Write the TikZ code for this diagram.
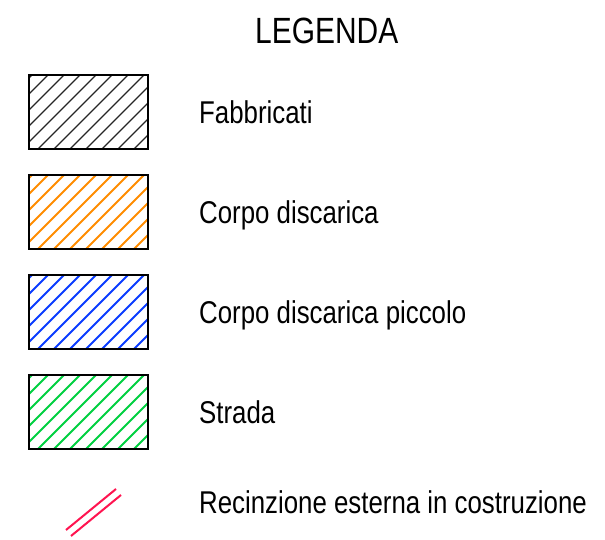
\documentclass[tikz,border=0pt]{standalone}
\usepackage{fontspec}
\setmainfont{Liberation Sans}[FakeStretch=0.82]
\usetikzlibrary{calc}
\newcommand\gap{100pt}
\definecolor{orangeD}{HTML}{FF8C00}
\definecolor{blueD}{HTML}{0A3CFF}
\definecolor{greenD}{HTML}{00D040}
\definecolor{redR}{HTML}{FF1450}

\begin{document}
\begin{tikzpicture}[
      x=1pt, y=1pt,
      swatch/.style args = {#1/#2}{
        draw=black,
        line width=1.5pt,
        minimum width=119pt,
        minimum height=74pt,
        inner sep=0pt,
        path picture={
          \foreach \k in {-6,...,8}
            \draw[#1, line width=#2] ($(path picture bounding box.south west)+(9pt+16*\k pt,0)$) -- +(90pt,90pt);
        },
      },
      label/.style = {
        anchor=base west,
        inner sep=0pt,
        font=\fontsize{31.5}{36}\selectfont,
      },
      fence/.style = {
        draw=redR,
        line width=2pt,
      },
    ]
      \useasboundingbox (0,0) rectangle (605,540);
      \node[anchor=base west, inner sep=0pt, font=\fontsize{36.5}{40}\selectfont] (title) at (255, 496) {LEGENDA};

      \node[swatch=black!85/1.1pt] (fab) at (88.5, 428) {};
      \node[swatch=orangeD/1.8pt] (disc) at (88.5, 428-\gap) {};
      \node[swatch=blueD/1.8pt] (discp) at (88.5, 428-2*\gap) {};
      \node[swatch=greenD/1.8pt] (str) at (88.5, 428-3*\gap) {};

      \node[label] (tfab) at (199, 416) {Fabbricati};
      \node[label] (tdisc) at (199, 416-\gap) {Corpo discarica};
      \node[label] (tdiscp) at (199, 416-2*\gap) {Corpo discarica piccolo};
      \node[label] (tstr) at (199, 416-3*\gap) {Strada};
      \node[label] (trec) at (199, 26) {Recinzione esterna in costruzione};

      % recinzione
      \coordinate (r1a) at (66, 10);
      \coordinate (r1b) at (116, 51);
      \coordinate (r2a) at (71, 4);
      \coordinate (r2b) at (121, 45);
      \draw[fence] (r1a) -- (r1b);
      \draw[fence] (r2a) -- (r2b);

    \end{tikzpicture}
\end{document}
